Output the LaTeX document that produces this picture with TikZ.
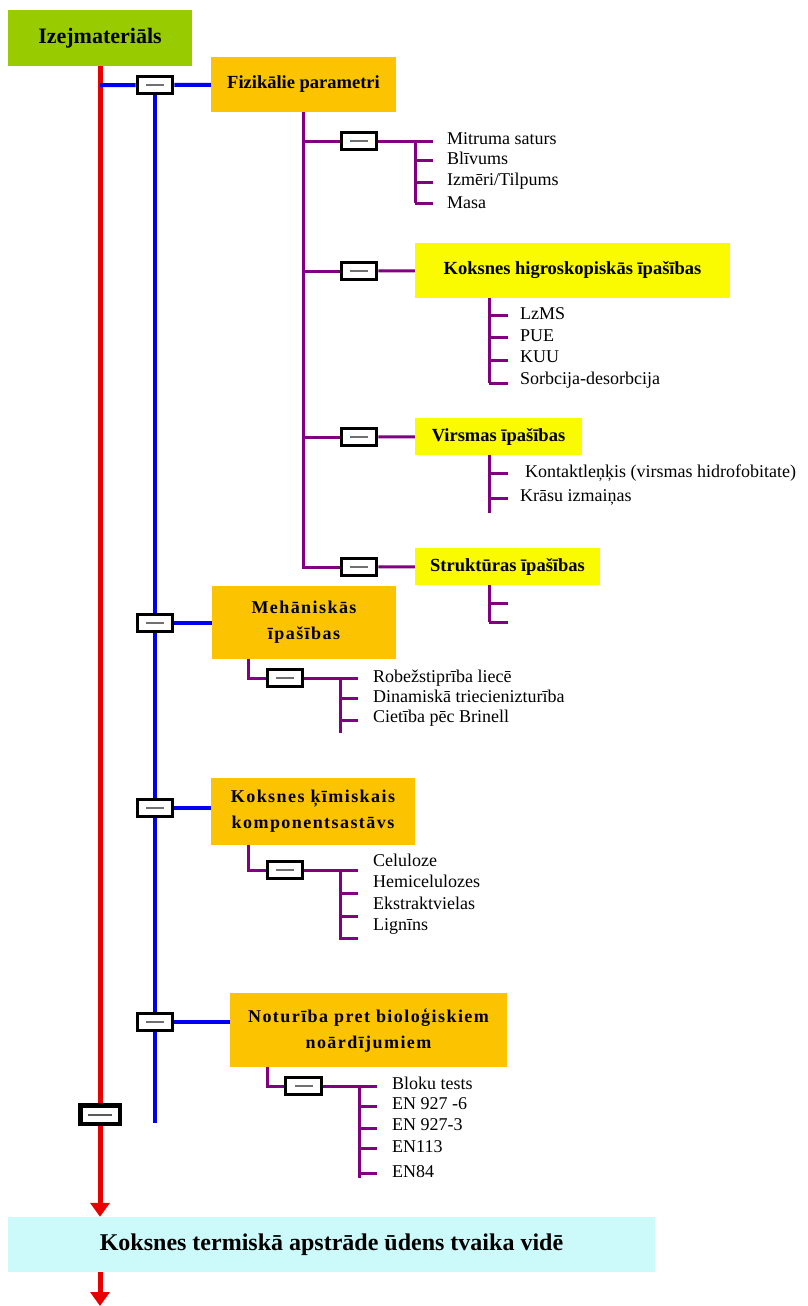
\documentclass[tikz,border=0pt]{standalone}
\usepackage{fontspec}
\setmainfont{Liberation Serif}
\usetikzlibrary{arrows.meta}
\definecolor{cgreen}{HTML}{99CC00}
\definecolor{corange}{HTML}{FCC400}
\definecolor{cyellow}{HTML}{FAFA00}
\definecolor{ccyan}{HTML}{CCFAFA}
\definecolor{cred}{HTML}{E80000}
\definecolor{cblue}{HTML}{0000F0}
\definecolor{cpurple}{HTML}{800080}
\definecolor{cdash}{HTML}{707070}
\pgfdeclarelayer{bg}
\pgfsetlayers{bg,main}
\tikzset{
  hdr/.style={inner sep=0pt, align=center, font=\fontsize{18.5}{26}\selectfont\bfseries},
  hdrtwo/.style={font=\fontsize{18}{26}\selectfont\bfseries\addfontfeatures{LetterSpace=8}},
  gbox/.style={hdr, fill=cgreen, font=\fontsize{22}{24}\selectfont\bfseries},
  obox/.style={hdr, fill=corange},
  ybox/.style={hdr, fill=cyellow},
  cbox/.style={inner sep=0pt, fill=ccyan, font=\fontsize{24}{26}\selectfont\bfseries},
  mbox/.style={draw=black, line width=3.3pt, fill=white, minimum width=35.5pt,
    minimum height=16.5pt, inner sep=0pt,
    path picture={\draw[cdash, line width=1.6pt]
      ([xshift=-9pt]path picture bounding box.center) --
      ([xshift=9pt]path picture bounding box.center);}},
  rbox/.style={draw=black, line width=4.5pt, fill=white, minimum width=39.5pt,
    minimum height=18.5pt, inner sep=0pt,
    path picture={\draw[cdash!80!black, line width=2pt]
      ([xshift=-12pt]path picture bounding box.center) --
      ([xshift=12pt]path picture bounding box.center);}},
  item/.style={anchor=west, inner sep=0pt, text height=12pt, text depth=4pt,
    font=\fontsize{18}{20}\selectfont},
  redline/.style={draw=cred, line width=5pt},
  blueline/.style={draw=cblue, line width=4pt},
  purp/.style={draw=cpurple, line width=3pt},
  rarrow/.style={redline, -{Triangle[width=19pt,length=14pt]}}
}
\begin{document}
\begin{tikzpicture}[x=1pt,y=-1pt]
\path[use as bounding box] (0,0) rectangle (807,1306);

% main boxes
\node[gbox, minimum width=184pt, minimum height=56pt] (izej) at (100,38) {Izejmateriāls};
\node[obox, minimum width=185pt, minimum height=55pt] (fiz) at (303.5,84.5) {Fizikālie parametri};
\node[mbox] (b1) at (155,85) {};
\node[mbox] (pb1) at (359,141) {};
\node[ybox, minimum width=315pt, minimum height=55pt] (hig) at (572.5,270.5) {Koksnes higroskopiskās īpašības};
\node[mbox] (pb2) at (359,271) {};
\node[ybox, minimum width=167pt, minimum height=37pt] (virs) at (498.5,436.5) {Virsmas īpašības};
\node[mbox] (pb3) at (359,437) {};
\node[ybox, minimum width=185pt, minimum height=37pt] (strukt) at (507.5,566.5) {Struktūras īpašības};
\node[mbox] (pb4) at (359,567) {};
\node[obox, hdrtwo, minimum width=184pt, minimum height=73pt] (mech) at (304,622.5) {Mehāniskās\\īpašības};
\node[mbox] (b2) at (155,623) {};
\node[mbox] (mb1) at (285,678) {};
\node[obox, hdrtwo, minimum width=204pt, minimum height=67pt] (chem) at (313,811.5) {Koksnes ķīmiskais\\komponentsastāvs};
\node[mbox] (b3) at (155,808) {};
\node[mbox] (mb2) at (285,870) {};
\node[obox, hdrtwo, minimum width=277pt, minimum height=74pt] (bio) at (368.5,1030) {Noturība pret bioloģiskiem\\noārdījumiem};
\node[mbox] (b4) at (155,1022) {};
\node[mbox] (mb3) at (303.5,1086) {};
\node[rbox] (rb) at (100,1114.5) {};
\node[cbox, minimum width=647pt, minimum height=55pt] (term) at (331.5,1244.5) {Koksnes termiskā apstrāde ūdens tvaika vidē};

% items
\node[item] (m1) at (447,140) {Mitruma saturs};
\node[item] (m2) at (447,160) {Blīvums};
\node[item] (m3) at (447,181) {Izmēri/Tilpums};
\node[item] (m4) at (447,204) {Masa};
\node[item] (h1) at (520,315) {LzMS};
\node[item] (h2) at (520,337) {PUE};
\node[item] (h3) at (520,358) {KUU};
\node[item] (h4) at (520,380) {Sorbcija-desorbcija};
\node[item] (v1) at (525,473) {Kontaktleņķis (virsmas hidrofobitate)};
\node[item] (v2) at (520,497) {Krāsu izmaiņas};
\node[item] (e1) at (373,678) {Robežstiprība liecē};
\node[item] (e2) at (373,698) {Dinamiskā triecienizturība};
\node[item] (e3) at (373,718) {Cietība pēc Brinell};
\node[item] (f1) at (373,862) {Celuloze};
\node[item] (f2) at (373,883) {Hemicelulozes};
\node[item] (f3) at (373,905) {Ekstraktvielas};
\node[item] (f4) at (373,926) {Lignīns};
\node[item] (g1) at (392,1085) {Bloku tests};
\node[item] (g2) at (392,1105) {EN 927 -6};
\node[item] (g3) at (392,1126) {EN 927-3};
\node[item] (g4) at (392,1148) {EN113};
\node[item] (g5) at (392,1173) {EN84};

% coordinates
\coordinate (r1) at (100,85);
\coordinate (bEnd) at (155,1123);
\coordinate (rEnd) at (100,1306);
\coordinate (A1) at (433,141); \coordinate (A2) at (433,160);
\coordinate (A3) at (433,182); \coordinate (A4) at (433,203);
\coordinate (Abus) at (415,203);
\coordinate (Bt) at (489,298);
\coordinate (B1) at (508,315); \coordinate (B2) at (508,337);
\coordinate (B3) at (508,360); \coordinate (B4) at (508,383);
\coordinate (Ct) at (489,455); \coordinate (Cb) at (489,513);
\coordinate (C1) at (508,473); \coordinate (C2) at (508,498);
\coordinate (Dt) at (489,585);
\coordinate (D1) at (508,603); \coordinate (D2) at (508,622);
\coordinate (Et) at (248,659); \coordinate (Eb) at (340,733);
\coordinate (E1) at (358,678); \coordinate (E2) at (358,698); \coordinate (E3) at (358,720);
\coordinate (Ft) at (248,845); \coordinate (Fb) at (340,940);
\coordinate (F1) at (358,870); \coordinate (F2) at (358,893);
\coordinate (F3) at (358,916); \coordinate (F4) at (358,938);
\coordinate (Gt) at (267,1067); \coordinate (Gb) at (359,1178);
\coordinate (G1) at (377,1086); \coordinate (G2) at (377,1106);
\coordinate (G3) at (377,1128); \coordinate (G4) at (377,1148); \coordinate (G5) at (377,1173);

\begin{pgfonlayer}{bg}
% red
\draw[redline] (izej.south) -- (rb.north);
\draw[rarrow] (rb.south) -- (rb.south |- term.north);
\draw[rarrow] (term.south -| rEnd) -- (rEnd);
% blue
\draw[blueline] (r1) -- (b1) -- (fiz);
\draw[blueline] (b1.south) -- (bEnd);
\draw[blueline] (b2) -- (b2 -| mech.west);
\draw[blueline] (b3) -- (b3 -| chem.west);
\draw[blueline] (b4) -- (b4 -| bio.west);
% purple spine
\draw[purp] (fiz.south) |- (pb4.west);
\draw[purp] (fiz.south |- pb1) -- (pb1);
\draw[purp] (fiz.south |- pb2) -- (pb2);
\draw[purp] (fiz.south |- pb3) -- (pb3);
\draw[purp] (pb2) -- (hig);
\draw[purp] (pb3) -- (virs);
\draw[purp] (pb4) -- (strukt);
% list 1
\draw[purp] (pb1) -- (A1);
\draw[purp] (Abus |- A1) -- (Abus);
\draw[purp] (Abus |- A2) -- (A2);
\draw[purp] (Abus |- A3) -- (A3);
\draw[purp] (Abus) -- (A4);
% list 2
\draw[purp] (Bt) -- (Bt |- B4);
\draw[purp] (Bt |- B1) -- (B1);
\draw[purp] (Bt |- B2) -- (B2);
\draw[purp] (Bt |- B3) -- (B3);
\draw[purp] (Bt |- B4) -- (B4);
% list 3
\draw[purp] (Ct) -- (Cb);
\draw[purp] (Ct |- C1) -- (C1);
\draw[purp] (Ct |- C2) -- (C2);
% list 4
\draw[purp] (Dt) -- (Dt |- D2);
\draw[purp] (Dt |- D1) -- (D1);
\draw[purp] (Dt |- D2) -- (D2);
% mech
\draw[purp] (Et) |- (mb1.west);
\draw[purp] (mb1) -- (E1);
\draw[purp] (Eb |- E1) -- (Eb);
\draw[purp] (Eb |- E2) -- (E2);
\draw[purp] (Eb |- E3) -- (E3);
% chem
\draw[purp] (Ft) |- (mb2.west);
\draw[purp] (mb2) -- (F1);
\draw[purp] (Fb |- F1) -- (Fb);
\draw[purp] (Fb |- F2) -- (F2);
\draw[purp] (Fb |- F3) -- (F3);
\draw[purp] (Fb |- F4) -- (F4);
% bio
\draw[purp] (Gt) |- (mb3.west);
\draw[purp] (mb3) -- (G1);
\draw[purp] (Gb |- G1) -- (Gb);
\draw[purp] (Gb |- G2) -- (G2);
\draw[purp] (Gb |- G3) -- (G3);
\draw[purp] (Gb |- G4) -- (G4);
\draw[purp] (Gb |- G5) -- (G5);
\end{pgfonlayer}
\end{tikzpicture}
\end{document}
